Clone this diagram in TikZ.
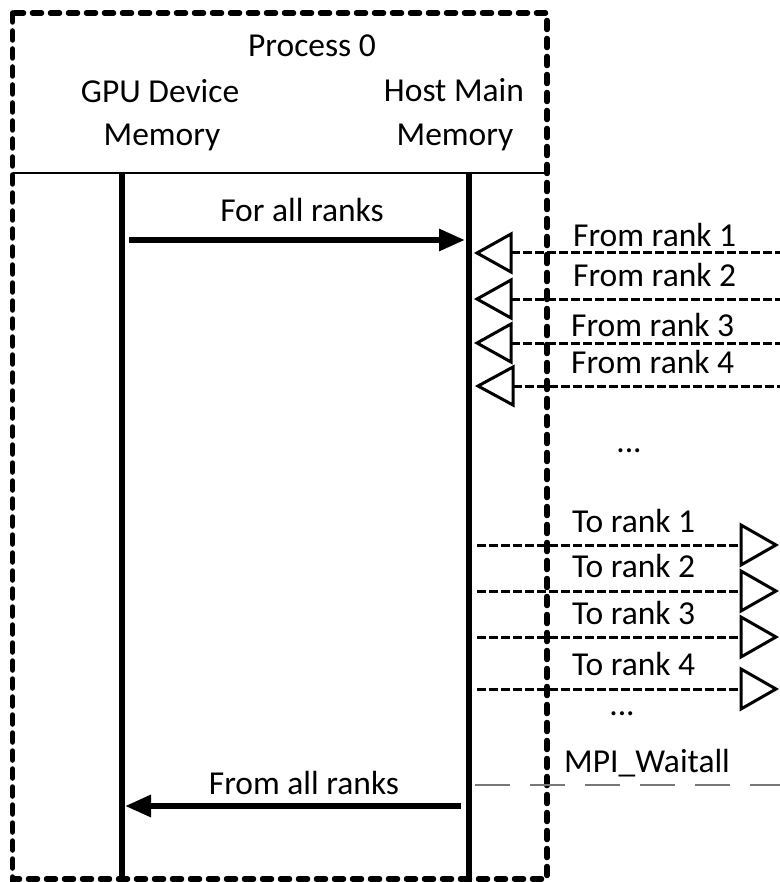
\documentclass[tikz,border=0pt]{standalone}
\usepackage{fontspec}
\setmainfont{Carlito}
\usetikzlibrary{arrows.meta}
\tikzset{
  lbl/.style={inner sep=0pt, font=\fontsize{33.5pt}{40pt}\selectfont},
  boxline/.style={line width=5.5pt, line cap=round, dash pattern=on 9pt off 9pt},
  lifeline/.style={line width=5.5pt},
  msg/.style={line width=6pt, -{Triangle[length=26pt,width=21pt]}, shorten >=0pt},
  rankline/.style={line width=3pt, dash pattern=on 8.5pt off 3.5pt},
  tri/.style={line width=3pt, fill=white, line join=miter},
  waitline/.style={line width=2.6pt, draw={rgb,255:red,120;green,120;blue,120}, dash pattern=on 35pt off 20pt}
}
\begin{document}
\begin{tikzpicture}[x=1pt,y=-1pt]
\useasboundingbox (0,0) rectangle (779,882);
% header
\node[lbl, anchor=base] (proc) at (312,57) {Process 0};
\node[lbl, anchor=base] (gpu1) at (160,103) {GPU Device};
\node[lbl, anchor=base] (gpu2) at (162,146) {Memory};
\node[lbl, anchor=base] (host1) at (454,102) {Host Main};
\node[lbl, anchor=base] (host2) at (455,146) {Memory};
% separator
\coordinate (sepL) at (12.5,173);
\coordinate (sepR) at (547,173);
\draw[line width=1.8pt] (sepL) -- (sepR);
% lifelines
\coordinate (gtop) at (122,173);
\coordinate (gbot) at (122,884);
\coordinate (htop) at (469,173);
\coordinate (hbot) at (469,884);
\draw[lifeline] (gtop) -- (gbot);
\draw[lifeline] (htop) -- (hbot);
% outer box
\draw[boxline] (12.5,13) rectangle (547,879);
% for all ranks
\node[lbl, anchor=base] (forall) at (302,222) {For all ranks};
\coordinate (fa1) at (129,240);
\coordinate (fa2) at (465,240);
\draw[msg] (fa1) -- (fa2);
% from ranks
\foreach \i/\y/\ty/\tx/\tip/\base in {1/253/247/573/477/511, 2/299/287/573/477/511, 3/343/336/571/477/511, 4/386/373/571/478/513}{
  \coordinate (ft\i) at (\tip,\y);
  \coordinate (fb\i) at (\base,\y);
  \coordinate (fe\i) at (781,\y);
  \draw[rankline] (fb\i) -- (fe\i);
  \draw[tri] (ft\i) -- (\base,\y-19) -- (\base,\y+19) -- cycle;
  \node[lbl, anchor=base west] (fl\i) at (\tx,\ty) {From rank \i};
}
\node[lbl, anchor=base] (dots1) at (629,452) {...};
% to ranks
\foreach \i/\y/\ty in {1/545/532, 2/591/577, 3/637/624, 4/689/675}{
  \coordinate (ts\i) at (477,\y);
  \coordinate (tb\i) at (741,\y);
  \coordinate (tt\i) at (776,\y);
  \draw[rankline] (ts\i) -- (tb\i);
  \draw[tri] (tt\i) -- (741,\y-20) -- (741,\y+20) -- cycle;
  \node[lbl, anchor=base west] (tl\i) at (572,\ty) {To rank \i};
}
\node[lbl, anchor=base] (dots2) at (622,715) {...};
% MPI_Waitall
\node[lbl, anchor=base west] (wait) at (564,772) {MPI\_Waitall};
\coordinate (w1) at (475,785);
\coordinate (w2) at (781,785);
\draw[waitline] (w1) -- (w2);
% from all ranks
\node[lbl, anchor=base] (fromall) at (304,794) {From all ranks};
\coordinate (fr1) at (461,806);
\coordinate (fr2) at (125,806);
\draw[msg] (fr1) -- (fr2);
\end{tikzpicture}
\end{document}
